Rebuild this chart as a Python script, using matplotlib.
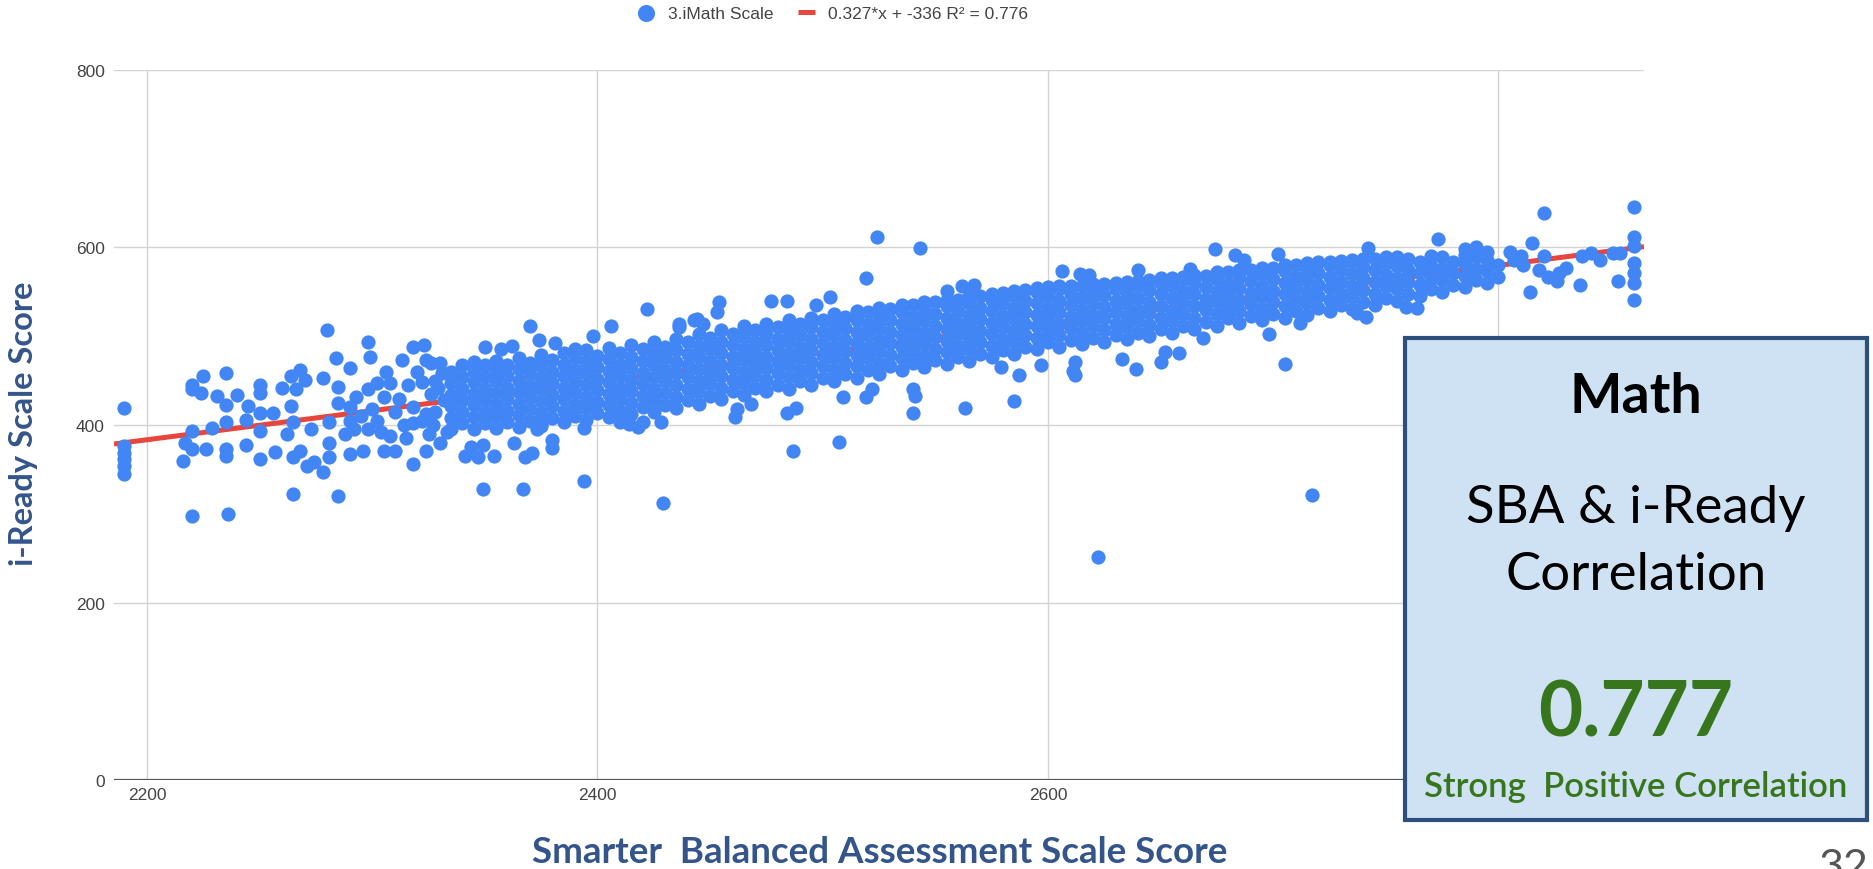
import matplotlib
matplotlib.use("Agg")
import matplotlib.pyplot as plt
from matplotlib.patches import Rectangle

# ---------------- data ----------------
# dense core of the cloud: one SBA score per column, with the i-Ready scores read at that SBA score
band_sba = [2335, 2340, 2345, 2350, 2355, 2360, 2365, 2370, 2375, 2380,
            2385, 2390, 2395, 2400, 2405, 2410, 2415, 2420, 2425, 2430,
            2435, 2440, 2445, 2450, 2455, 2460, 2465, 2470, 2475, 2480,
            2485, 2490, 2495, 2500, 2505, 2510, 2515, 2520, 2525, 2530,
            2535, 2540, 2545, 2550, 2555, 2560, 2565, 2570, 2575, 2580,
            2585, 2590, 2595, 2600, 2605, 2610, 2615, 2620, 2625, 2630,
            2635, 2640, 2645, 2650, 2655, 2660, 2665, 2670, 2675, 2680,
            2685, 2690, 2695, 2700, 2705, 2710, 2715, 2720, 2725, 2730,
            2735, 2740, 2745, 2750, 2755, 2760, 2765, 2770, 2775, 2780,
            2785, 2790, 2795, 2800]
band_iready = [
    [395, 408, 421, 434, 447, 460], [402, 415, 428, 441, 454, 467],
    [396, 409, 422, 435, 448, 461, 471], [402, 415, 428, 441, 454, 467],
    [397, 410, 423, 436, 449, 462, 472], [403, 416, 429, 442, 455, 468],
    [398, 411, 424, 437, 450, 463, 475], [405, 418, 431, 444, 457, 470],
    [401, 414, 427, 440, 453, 466, 479], [408, 421, 434, 447, 460, 473],
    [403, 416, 429, 442, 455, 468, 481], [410, 423, 436, 449, 462, 475],
    [406, 419, 432, 445, 458, 471, 484], [413, 426, 439, 452, 465, 478],
    [409, 422, 435, 448, 461, 474, 487], [416, 429, 442, 455, 468, 481],
    [412, 425, 438, 451, 464, 477, 490], [420, 433, 446, 459, 472, 485],
    [415, 428, 441, 454, 467, 480, 493], [423, 436, 449, 462, 475, 488],
    [419, 432, 445, 458, 471, 484, 497], [428, 441, 454, 467, 480, 493],
    [424, 437, 450, 463, 476, 489, 502], [433, 446, 459, 472, 485, 498],
    [429, 442, 455, 468, 481, 494, 507], [438, 451, 464, 477, 490, 503],
    [434, 447, 460, 473, 486, 499, 511], [442, 455, 468, 481, 494, 507],
    [438, 451, 464, 477, 490, 503, 514], [445, 458, 471, 484, 497, 510],
    [441, 454, 467, 480, 493, 506, 518], [449, 462, 475, 488, 501, 514],
    [445, 458, 471, 484, 497, 510, 521], [453, 466, 479, 492, 505, 518],
    [449, 462, 475, 488, 501, 514, 525], [457, 470, 483, 496, 509, 522],
    [453, 466, 479, 492, 505, 518, 528], [462, 475, 488, 501, 514, 527],
    [457, 470, 483, 496, 509, 522, 532], [466, 479, 492, 505, 518, 531],
    [462, 475, 488, 501, 514, 527, 535], [470, 483, 496, 509, 522, 535],
    [465, 478, 491, 504, 517, 530, 538], [473, 486, 499, 512, 525, 538],
    [469, 482, 495, 508, 521, 534, 541], [476, 489, 502, 515, 528, 541],
    [472, 485, 498, 511, 524, 537, 545], [480, 493, 506, 519, 532, 545],
    [476, 489, 502, 515, 528, 541, 548], [484, 497, 510, 523, 536, 549],
    [480, 493, 506, 519, 532, 545, 551], [488, 501, 514, 527, 540, 552],
    [485, 498, 511, 524, 537, 550, 554], [493, 506, 519, 532, 545, 555],
    [488, 501, 514, 527, 540, 553, 556], [496, 509, 522, 535, 548, 557],
    [491, 504, 517, 530, 543, 556], [498, 511, 524, 537, 550, 559],
    [494, 507, 520, 533, 546, 559], [501, 514, 527, 540, 553, 560],
    [497, 510, 523, 536, 549, 561], [504, 517, 530, 543, 556, 562],
    [500, 513, 526, 539, 552, 563], [508, 521, 534, 547, 560, 565],
    [504, 517, 530, 543, 556, 566], [512, 525, 538, 551, 564, 567],
    [508, 521, 534, 547, 560, 569], [516, 529, 542, 555, 568],
    [512, 525, 538, 551, 564, 572], [520, 533, 546, 559, 572],
    [515, 528, 541, 554, 567, 574], [523, 536, 549, 562, 575],
    [518, 531, 544, 557, 570, 577], [525, 538, 551, 564, 577],
    [521, 534, 547, 560, 573, 580], [528, 541, 554, 567, 580],
    [524, 537, 550, 563, 576, 582], [532, 545, 558, 571, 583],
    [528, 541, 554, 567, 580, 584], [535, 548, 561, 574, 585],
    [531, 544, 557, 570, 583, 586], [539, 552, 565, 578, 587],
    [535, 548, 561, 574, 587], [543, 556, 569, 582, 589],
    [540, 553, 566, 579, 589], [548, 561, 574, 587],
    [545, 558, 571, 584], [553, 566, 579, 590],
    [550, 563, 576, 589], [558, 571, 584],
    [555, 568, 581, 591], [563, 576, 589],
    [560, 573, 586], [567, 580],
]

# scattered students outside the dense core
sparse_sba = [
    2190, 2190, 2190, 2190, 2190, 2190, 2220, 2236, 2216, 2220, 2217, 2220, 2226,
    2220, 2225, 2224, 2220, 2235, 2231, 2235, 2235, 2235, 2235, 2229, 2240, 2245,
    2244, 2244, 2250, 2250, 2250, 2250, 2250, 2256, 2257, 2260, 2264, 2266, 2264,
    2265, 2265, 2268, 2270, 2262, 2265, 2271, 2274, 2278, 2268, 2273, 2278, 2280,
    2281, 2281, 2281, 2285, 2285, 2284, 2285, 2290, 2290, 2296, 2298, 2299, 2298,
    2302, 2298, 2305, 2310, 2308, 2313, 2318, 2323, 2324, 2324, 2318, 2308, 2312,
    2290, 2293, 2290, 2295, 2300, 2302, 2305, 2306, 2310, 2314, 2316, 2318, 2320,
    2322, 2325, 2326, 2328, 2330, 2330, 2288, 2292, 2304, 2315,
    2327, 2328, 2332, 2329, 2331, 2333, 2326, 2322, 2324, 2318,
    2349, 2367, 2394, 2429, 2422, 2370, 2406, 2436, 2443, 2341, 2347, 2354, 2344,
    2349, 2363, 2368, 2371, 2380, 2380, 2373, 2375, 2394, 2410, 2414, 2420, 2428,
    2350, 2357, 2362, 2374, 2381, 2390,
    2524, 2543, 2519, 2487, 2507, 2622, 2540, 2563, 2585, 2540, 2541, 2705, 2674,
    2683, 2702, 2639, 2650, 2658, 2461, 2462, 2484, 2488, 2509, 2519, 2587, 2579,
    2611, 2612, 2633, 2454, 2453, 2477, 2484, 2503, 2555, 2567, 2606, 2614, 2640,
    2663, 2436, 2444, 2612, 2717, 2773, 2759, 2764, 2737, 2741, 2712, 2669,
    2398, 2447, 2497, 2562, 2618, 2687, 2742, 2418, 2468, 2522, 2597, 2652, 2698,
    2820, 2860, 2860, 2860, 2860, 2860, 2860, 2860, 2853, 2836, 2841, 2837, 2827,
    2826, 2830, 2814, 2807, 2810, 2815, 2820, 2822, 2845, 2851, 2854, 2811, 2818,
    2805, 2785, 2795, 2790,
]
sparse_iready = [
    419, 376, 369, 362, 354, 345, 298, 300, 360, 373, 380, 393, 373,
    445, 455, 436, 440, 459, 433, 423, 403, 373, 365, 397, 434, 421,
    406, 377, 445, 436, 414, 393, 362, 414, 370, 442, 455, 440, 421,
    403, 364, 462, 451, 390, 322, 354, 358, 347, 371, 395, 453, 507,
    403, 380, 364, 443, 425, 475, 320, 464, 367, 371, 494, 477, 440,
    447, 395, 371, 371, 388, 473, 488, 490, 473, 371, 356, 447, 429,
    420, 432, 405, 410, 418, 405, 432, 460, 415, 400, 445, 420, 460,
    405, 390, 435, 450, 380, 470, 390, 395, 392, 385,
    400, 415, 428, 442, 458, 392, 470, 448, 412, 402,
    328, 328, 337, 312, 531, 512, 512, 510, 518, 365, 364, 365, 375,
    378, 380, 364, 369, 374, 383, 395, 399, 397, 403, 401, 403, 403,
    488, 485, 489, 496, 492, 485,
    612, 599, 566, 371, 381, 251, 414, 419, 427, 441, 433, 469, 598,
    591, 593, 463, 471, 481, 409, 418, 414, 419, 431, 432, 456, 465,
    461, 471, 474, 538, 527, 540, 540, 544, 551, 558, 573, 570, 574,
    576, 514, 519, 456, 321, 609, 533, 532, 526, 522, 515, 498,
    500, 514, 535, 556, 569, 586, 599, 398, 424, 441, 468, 482, 503,
    639, 645, 612, 601, 582, 571, 560, 541, 562, 558, 594, 590, 571,
    562, 577, 550, 586, 590, 605, 590, 567, 586, 594, 594, 580, 575,
    595, 598, 595, 600,
]

trend_slope = 0.327
trend_intercept = -336
correlation = "0.777"

x_ticks = [2200, 2400, 2600, 2800]
x_tick_labels = ["2200", "2400", "2600", ""]   # 2800 lies under the info box
y_ticks = [0, 200, 400, 600, 800]

series_label = "3.iMath Scale"
trend_label = "0.327*x + -336 R² = 0.776"

# ---------------- figure ----------------
W, H = 1874, 870
fig = plt.figure(figsize=(W / 100, H / 100), dpi=100)


def fx(px):
    return px / W


def fy(py):
    return 1 - py / H


ax_left, ax_right, ax_top, ax_bottom = 114, 1644, 70.7, 781.3
ax = fig.add_axes([fx(ax_left), fy(ax_bottom), fx(ax_right - ax_left),
                   (ax_bottom - ax_top) / H])

xmin, xmax = 2185.35, 2864.6
ax.set_xlim(xmin, xmax)
ax.set_ylim(0, 800)

for s in ax.spines.values():
    s.set_visible(False)
ax.set_xticks(x_ticks)
ax.set_xticklabels(x_tick_labels)
ax.set_yticks(y_ticks)
ax.grid(True, color="#d3d3d3", linewidth=1.0, zorder=0)
ax.set_axisbelow(True)
ax.axhline(0, color="#555555", linewidth=1.6, zorder=1)
ax.tick_params(length=0, labelsize=12.5, labelcolor="#444444")
ax.tick_params(axis="y", pad=6.5)
ax.tick_params(axis="x", pad=5)
for lab in ax.get_xticklabels() + ax.get_yticklabels():
    lab.set_fontfamily(["Liberation Sans", "DejaVu Sans"])

sba = []
iready = []
for x, ys in zip(band_sba, band_iready):
    for y in ys:
        sba.append(x)
        iready.append(y)
sba += sparse_sba
iready += sparse_iready

line_x = [xmin, xmax]
line_y = [trend_slope * v + trend_intercept for v in line_x]
ln, = ax.plot(line_x, line_y, color="#e8453c", linewidth=3.6,
              solid_capstyle="butt", zorder=2, label=trend_label)
sc = ax.scatter(sba, iready, s=105, color="#4285f4", linewidths=0,
                zorder=3, label=series_label)

leg = fig.legend(handles=[sc, ln], labels=[series_label, trend_label],
                 loc="center", bbox_to_anchor=(fx(833), fy(14)), ncol=2,
                 frameon=False, fontsize=12.5, handlelength=1.0,
                 handletextpad=0.75, columnspacing=1.4, borderpad=0,
                 scatterpoints=1, markerscale=1.2)
for t in leg.get_texts():
    t.set_color("#444444")
    t.set_fontfamily(["Liberation Sans", "DejaVu Sans"])

label_color = "#34558b"
fig.text(fx(24), fy(424), "i-Ready Scale Score", rotation=90, ha="center",
         va="center", fontsize=23.5, color=label_color, fontfamily="Lato",
         fontweight="bold")
fig.text(fx(880), fy(863), "Smarter  Balanced Assessment Scale Score",
         ha="center", va="baseline", fontsize=26.5, color=label_color,
         fontfamily="Lato", fontweight="bold")

# info box
bx0, bx1, by0, by1 = 1405, 1867, 339, 821
fig.add_artist(Rectangle((fx(bx0), fy(by1)), fx(bx1 - bx0), (by1 - by0) / H,
                         transform=fig.transFigure, facecolor="#cfe2f3",
                         edgecolor="#2d4f7c", linewidth=3, zorder=10))
cx = fx(1636)
fig.text(cx, fy(412.7), "Math", ha="center", va="baseline", fontsize=40,
         fontweight="bold", color="black", fontfamily="Lato", zorder=11)
fig.text(cx, fy(523), "SBA & i-Ready", ha="center", va="baseline",
         fontsize=38, fontweight="normal", color="black", fontfamily="Lato",
         zorder=11)
fig.text(cx, fy(590), "Correlation", ha="center", va="baseline",
         fontsize=38, fontweight="normal", color="black", fontfamily="Lato",
         zorder=11)
fig.text(cx, fy(737), correlation, ha="center", va="baseline", fontsize=55,
         fontweight="bold", color="#38761d", fontfamily="Lato", zorder=11)
fig.text(cx, fy(797), "Strong  Positive Correlation", ha="center",
         va="baseline", fontsize=25, fontweight="semibold", color="#38761d",
         fontfamily="Lato", zorder=11)

# slide number (cut by the bottom edge, as on the slide)
fig.text(fx(1818), fy(880), "32", ha="left", va="baseline", fontsize=31,
         color="#555555", fontfamily="Lato", fontweight="normal")

fig.savefig("out.png", dpi=100)
